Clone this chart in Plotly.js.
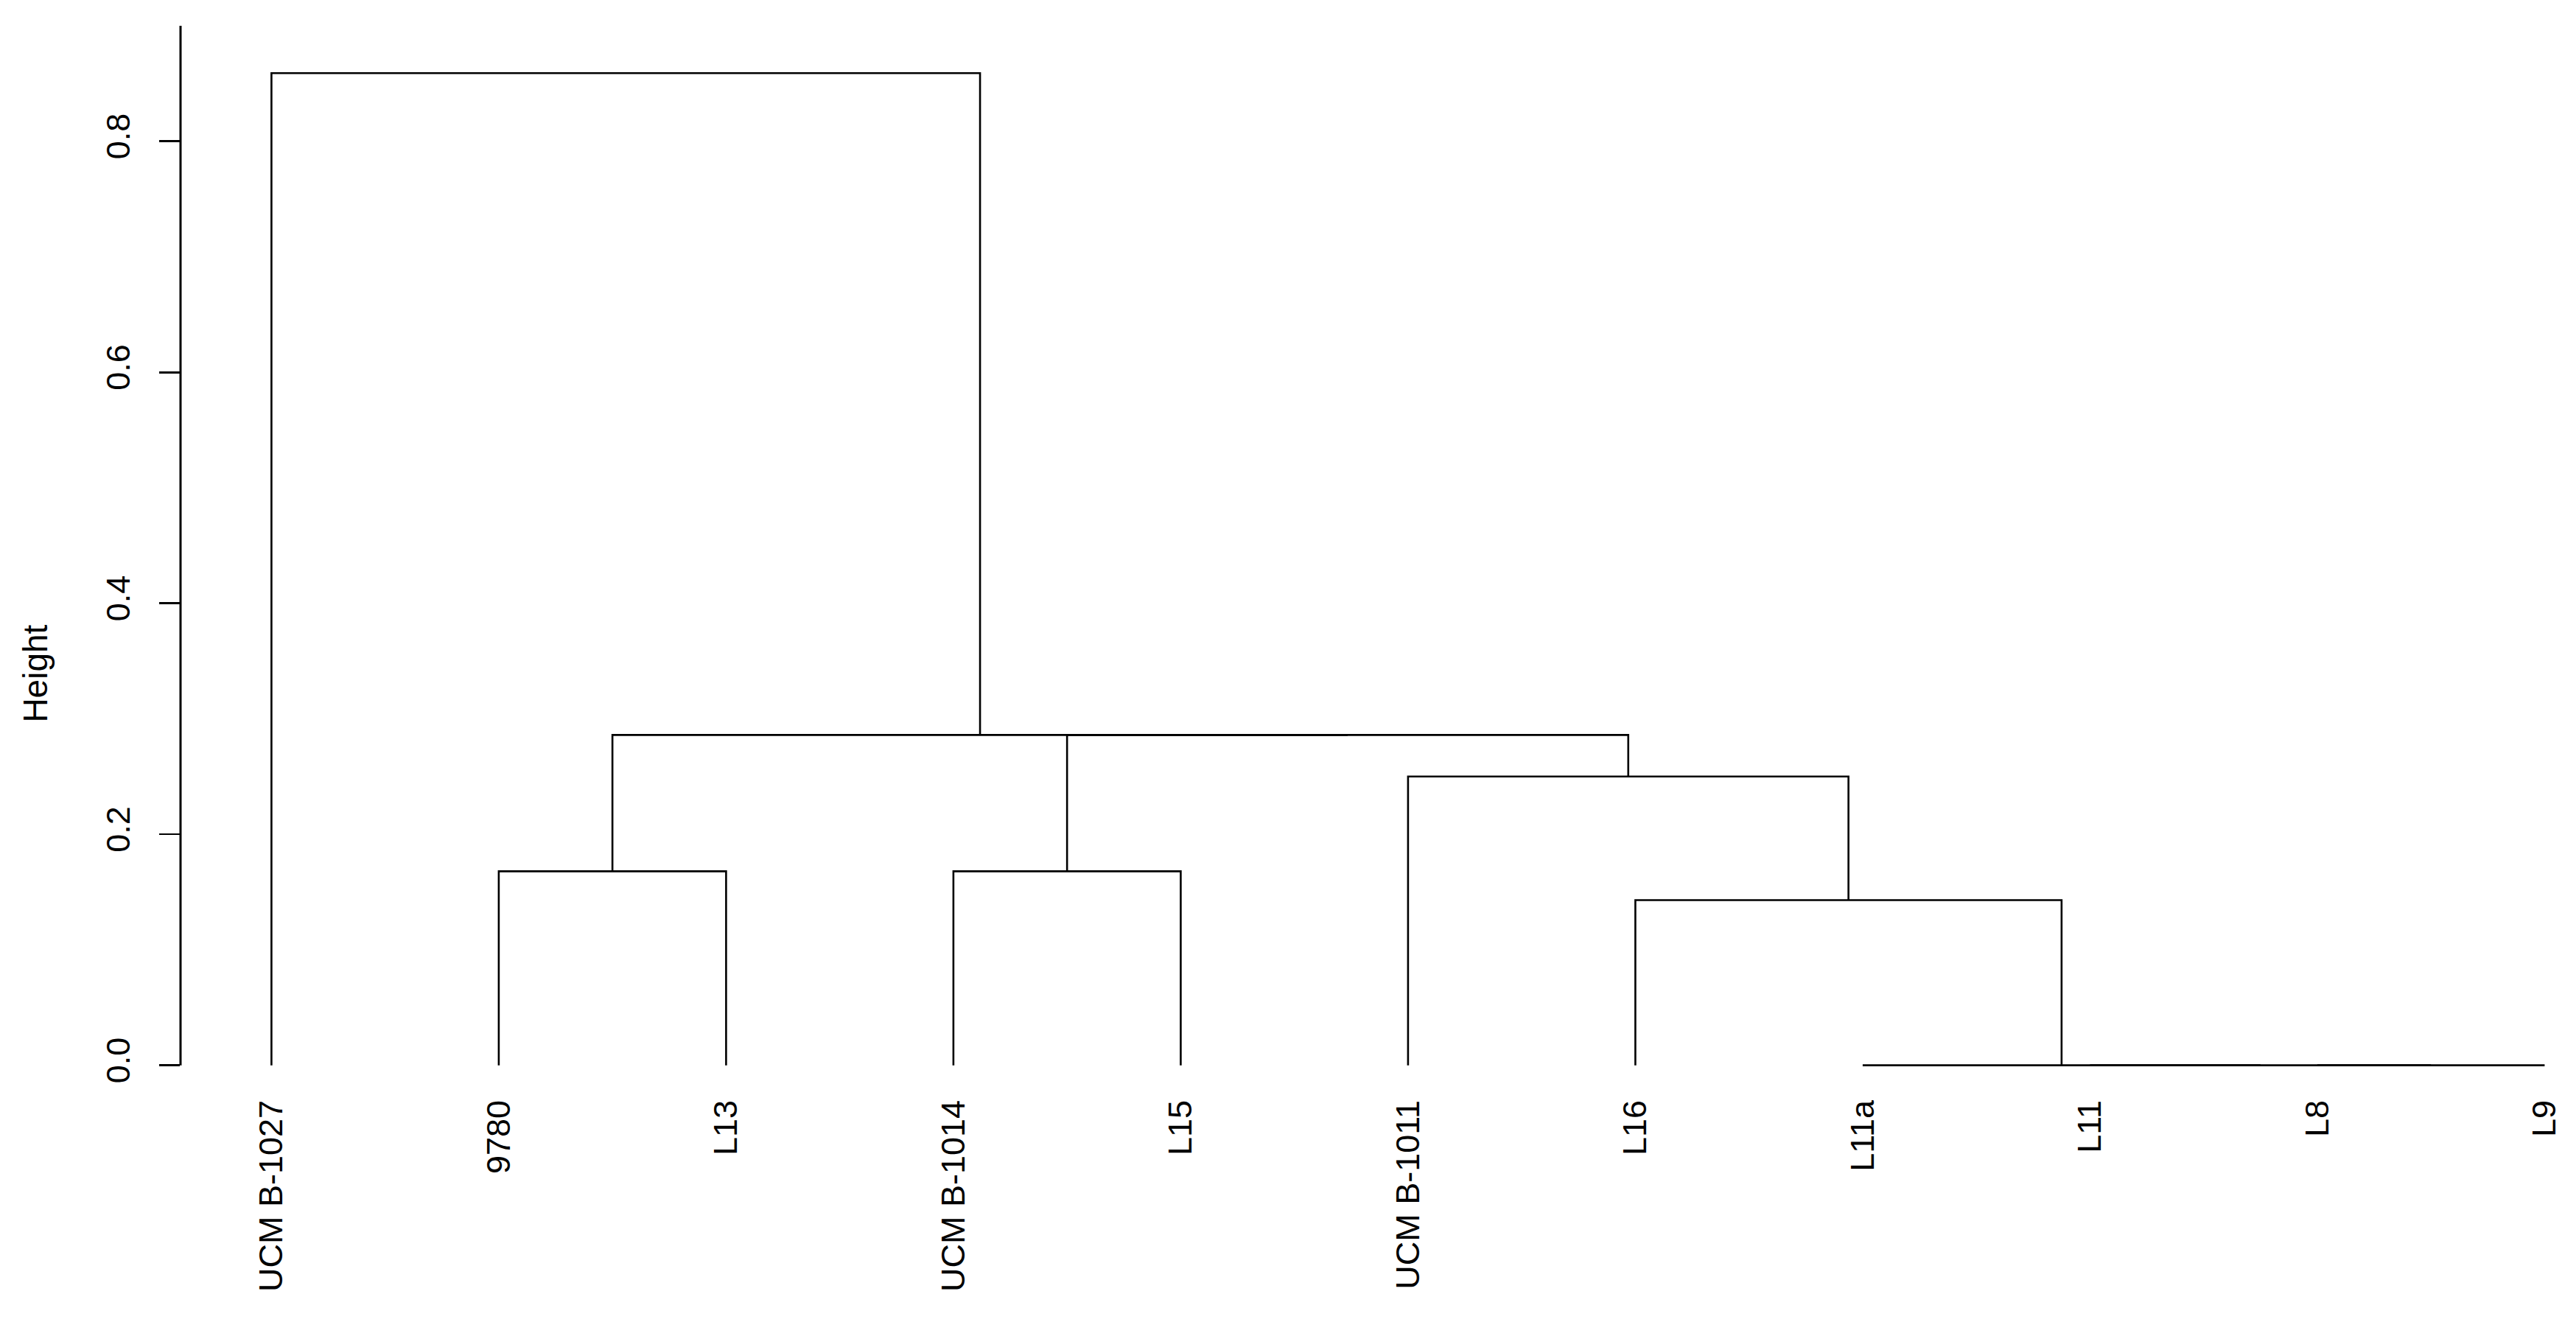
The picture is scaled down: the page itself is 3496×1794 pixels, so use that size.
<!DOCTYPE html>
<html>
<head>
<meta charset="utf-8">
<script src="https://cdn.plot.ly/plotly-3.0.1.min.js"></script>
<style>html,body{margin:0;padding:0;background:#fff;}#chart{width:3496px;height:1794px;}</style>
</head>
<body>
<div id="chart"></div>
<script>
// Leaf labels in plotted order
const leafLabels = ["UCM B-1027", "9780", "L13", "UCM B-1014", "L15", "UCM B-1011", "L16", "L11a", "L11", "L8", "L9"];
// Merge steps (negative = leaf number in order, positive = earlier merge step)
const mergeLeft  = [-10, -9, -8, -2, -4, -7, -6, 5, 4, -1];
const mergeRight = [-11,  1,  2, -3, -5,  3,  6, 7, 8,  9];
const mergeHeight = [0.0, 0.0, 0.0, 0.168, 0.168, 0.143, 0.250, 0.286, 0.286, 0.859];
const yTicks = [0, 0.2, 0.4, 0.6, 0.8];

// Build dendrogram segments
const pos = [], hgt = [];
const xs = [], ys = [];
function node(id) {
  if (id < 0) return {x: -id, h: 0};
  return {x: pos[id - 1], h: hgt[id - 1]};
}
for (let i = 0; i < mergeLeft.length; i++) {
  const a = node(mergeLeft[i]), b = node(mergeRight[i]);
  const h = mergeHeight[i];
  xs.push(a.x, a.x, b.x, b.x, null);
  ys.push(a.h, h, h, b.h, null);
  pos.push((a.x + b.x) / 2);
  hgt.push(h);
}
const leafPos = leafLabels.map((_, i) => i + 1);

const font = "Liberation Sans, Arial, sans-serif";
const data = [{
  type: "scatter", mode: "lines", x: xs, y: ys,
  line: {color: "#000", width: 2.6}, hoverinfo: "skip", showlegend: false
}];
const layout = {
  width: 3496, height: 1794,
  margin: {l: 245, r: 0, t: 35, b: 317},
  paper_bgcolor: "#fff", plot_bgcolor: "#fff",
  showlegend: false,
  font: {family: font, color: "#000", size: 45},
  xaxis: {
    range: [0.6, 11.138], tickvals: leafPos, ticktext: leafLabels,
    tickangle: -90, ticks: "", showgrid: false, zeroline: false, showline: false,
    tickfont: {family: font, size: 45, color: "#000"}, ticklabelstandoff: 6
  },
  yaxis: {
    range: [-0.02, 0.9], tickvals: yTicks, tickformat: ".1f",
    ticks: "outside", ticklen: 28, tickwidth: 2.6, tickcolor: "#000",
    tickangle: -90, showgrid: false, zeroline: false, showline: false,
    tickfont: {family: font, size: 45, color: "#000"}, ticklabelstandoff: 22
  },
  shapes: [{type: "line", xref: "paper", yref: "y", x0: 0, x1: 0, y0: 0, y1: 0.9,
            line: {color: "#000", width: 3}}],
  annotations: [{
    text: "Height", xref: "paper", yref: "y", x: -0.0605, y: 0.339,
    xanchor: "center", yanchor: "middle", showarrow: false, textangle: -90,
    font: {family: font, size: 46, color: "#000"}
  }]
};
Plotly.newPlot("chart", data, layout, {staticPlot: true, displayModeBar: false});
</script>
</body>
</html>
